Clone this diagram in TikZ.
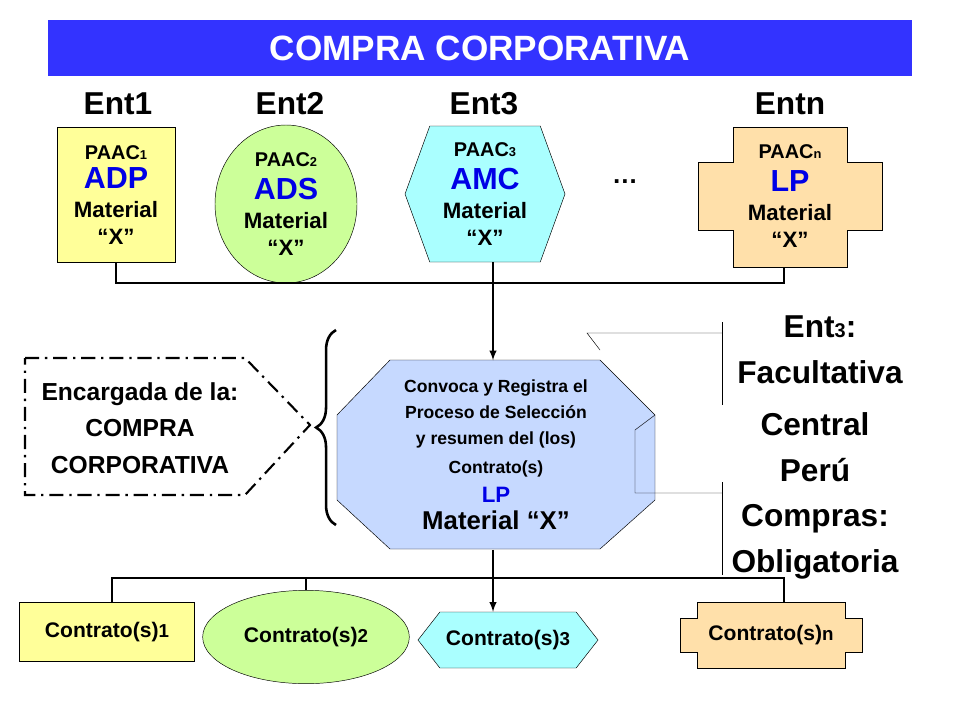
\documentclass[tikz,border=0pt]{standalone}
\usepackage{fontspec}
\setmainfont{Liberation Sans}
\usetikzlibrary{positioning, arrows, calc, shapes.geometric, shapes.symbols, decorations.pathreplacing}
\definecolor{titleblue}{RGB}{51,51,255}
\definecolor{ylw}{RGB}{255,255,153}
\definecolor{grn}{RGB}{204,255,153}
\definecolor{cyn}{RGB}{170,255,255}
\definecolor{org}{RGB}{255,224,170}
\definecolor{oct}{RGB}{198,217,255}
\definecolor{lblue}{RGB}{0,0,230}
\newcommand{\fs}[1]{\fontsize{#1}{#1}\selectfont\bfseries}
\tikzset{
        ent-box/.style={draw, align=center, inner sep=0pt, font=\fs{17}},
        hex-box/.style={ent-box, signal, signal to=west and east, fill=cyn},
        link/.style={line width=1.8pt},
        ent-lbl/.style={font=\fs{27}},
}
\begin{document}
\begin{tikzpicture}[x=0.03cm, y=-0.03cm]
        \useasboundingbox (0,0) rectangle (960,720);

        %TITLE
        \node [fill=titleblue, minimum width=25.92cm, minimum height=1.68cm, font=\fs{30}, text=white] (TITLE) at (480,48) {COMPRA CORPORATIVA};

        %ENTITY LABELS
        \node [ent-lbl] (E1) at (118,104) {Ent1};
        \node [ent-lbl] (E2) at (290,104) {Ent2};
        \node [ent-lbl] (E3) at (484,104) {Ent3};
        \node [ent-lbl] (EN) at (790,104) {Entn};

        %DRAW ENTITY SHAPES
        \node [ent-box, fill=ylw, minimum width=3.54cm, minimum height=4.05cm] (ADP) at (116,195)
              {PAAC{\fs{11}1}\\[6pt]{\fs{26}\color{lblue}ADP}\\[8pt]{\fs{19}Material}\\[6pt]{\fs{19}``X''}};
        \node [ent-box, ellipse, fill=grn, minimum width=4.26cm, minimum height=4.74cm] (ADS) at (286,204)
              {PAAC{\fs{11}2}\\[9pt]{\fs{26}\color{lblue}ADS}\\[8pt]{\fs{19}Material}\\[6pt]{\fs{19}``X''}};
        \node [hex-box, minimum width=4.8cm, minimum height=4.08cm, signal pointer angle=140] (AMC) at (485,194)
              {PAAC{\fs{11}3}\\[9pt]{\fs{26}\color{lblue}AMC}\\[8pt]{\fs{19}Material}\\[6pt]{\fs{19}``X''}};
        \draw [fill=org] (733,127) -- (847,127) -- (847,162) -- (882,162) -- (882,230) -- (847,230)
              -- (847,267) -- (733,267) -- (733,230) -- (698,230) -- (698,162) -- (733,162) -- cycle;
        \node [align=center, inner sep=0pt, font=\fs{17}] (LP) at (790,196)
              {PAAC{\fs{11}n}\\[9pt]{\fs{26}\color{lblue}LP}\\[8pt]{\fs{19}Material}\\[6pt]{\fs{19}``X''}};
        \node [font=\fs{22}] (DOTS) at (625,182) {\dots};

        %CENTRAL OCTAGON
        \draw [fill=oct] (390,360) -- (600,360) -- (655,415) -- (655,500) -- (600,549) -- (390,549)
              -- (337,500) -- (337,415) -- cycle;
        \node [minimum width=9.54cm, minimum height=5.67cm, align=center, inner sep=0pt, font=\fs{15}] (CENT) at (496,455)
              {Convoca y Registra el\\[7pt]Proceso de Selección\\[7pt]y resumen del (los)\\[10pt]Contrato(s)\\[8pt]{\fs{19}\color{lblue}LP}\\[6pt]{\fs{22}Material ``X''}};

        %CALLOUTS
        \coordinate (C1a) at (722,333);
        \coordinate (C2a) at (722,493);
        \draw (C1a) -- (587,333) -- (600,350);
        \draw (C2a) -- (635,493) -- (635,430) -- (655,415);
        \draw (722,322) -- (722,405);
        \draw (722,482) -- (722,575);
        \node [font=\fs{27}, align=center] (FAC) at (820,350) {Ent{\fs{17}3}:\\[12pt]Facultativa};
        \node [font=\fs{27}, align=center] (OBL) at (815,496) {Central\\[12pt]Perú\\[12pt]Compras:\\[12pt]Obligatoria};

        %LEFT PENTAGON AND BRACE
        \draw [line width=1.8pt, dash pattern=on 12pt off 5pt on 2pt off 5pt] (25,358) -- (245,358) -- (310,425) -- (245,495) -- (25,495) -- cycle;
        \node [font=\fs{21}, align=center] (ENC) at (140,428) {Encargada de la:\\[10pt]COMPRA\\[10pt]CORPORATIVA};
        \draw [line width=2.2pt, decorate, decoration={brace, amplitude=17}] (336,525) -- (336,330);

        %CONTRACT SHAPES
        \node [ent-box, fill=ylw, minimum width=5.25cm, minimum height=1.77cm, font=\fs{18}] (K1) at (107,632) {Contrato(s){\fs{16}1}};
        \node [ent-box, ellipse, fill=grn, minimum width=6.2cm, minimum height=2.8cm, font=\fs{18}] (K2) at (306,637) {Contrato(s){\fs{16}2}};
        \node [hex-box, minimum width=5.4cm, minimum height=1.68cm, signal pointer angle=104, font=\fs{18}] (K3) at (508,640) {Contrato(s){\fs{16}3}};
        \draw [fill=org] (697,602) -- (845,602) -- (845,618) -- (862,618) -- (862,652) -- (845,652)
              -- (845,668) -- (697,668) -- (697,652) -- (680,652) -- (680,618) -- (697,618) -- cycle;
        \node [font=\fs{18}] (KN) at (771,635) {Contrato(s){\fs{16}n}};

        % CONNECT ENTITIES
        \coordinate (TOPBUS) at (493,283);
        \draw [link] (ADP.south) |- (784,283) -- (784,267);
        \draw [link] (ADS.south) -- (286,283);
        \draw [link] (493,262) -- (TOPBUS);
        \draw [link, -latex] (TOPBUS) -- (CENT.north -| TOPBUS);

        % CONNECT CONTRACTS
        \coordinate (BOTBUS) at (493,578);
        \draw [link] (CENT.south -| BOTBUS) -- (BOTBUS);
        \draw [link] (112,603) |- (784,578) -- (784,602);
        \draw [link] (K2.north) -- (306,578);
        \draw [link, -latex] (BOTBUS) -- (K3.north -| BOTBUS);
\end{tikzpicture}
\end{document}
